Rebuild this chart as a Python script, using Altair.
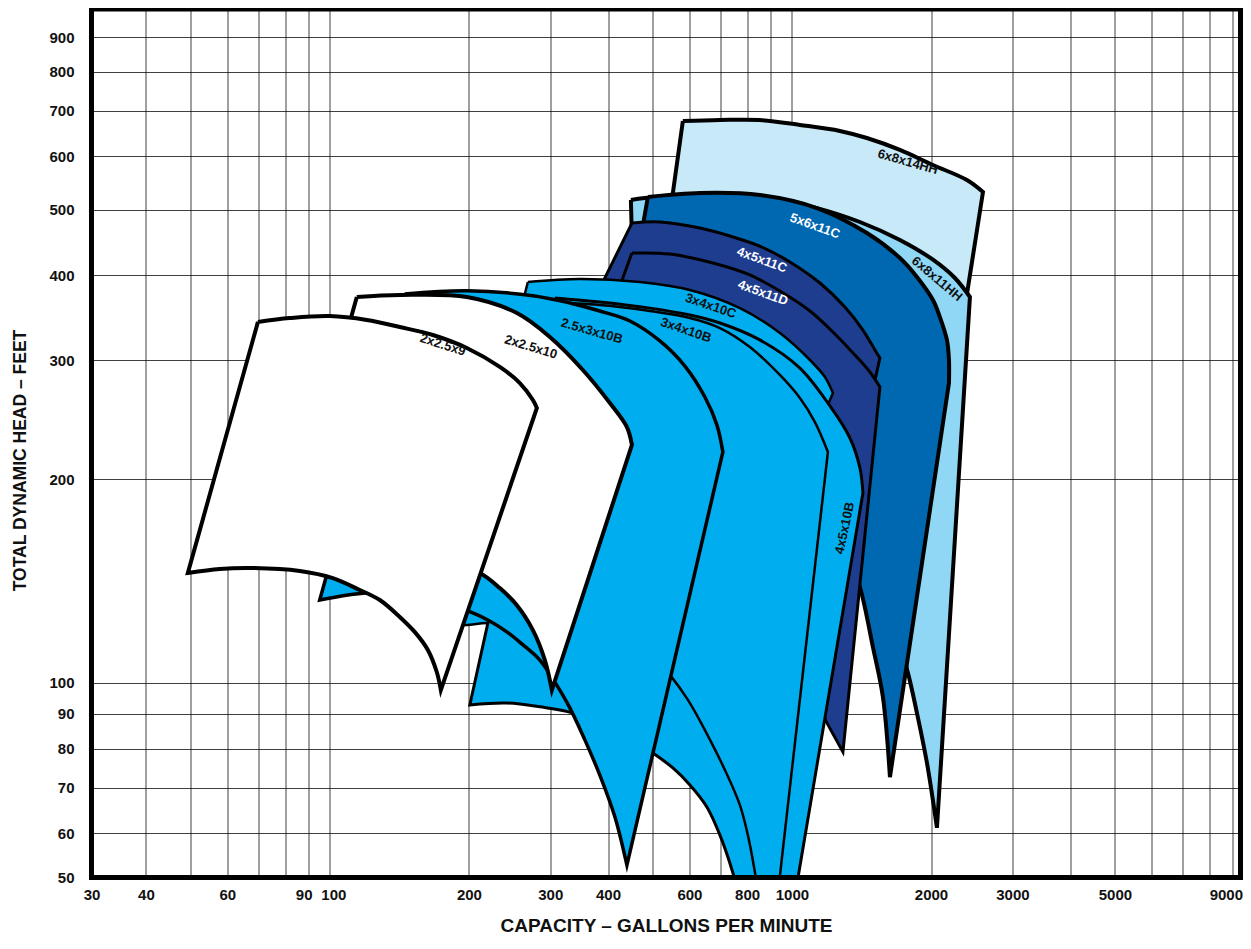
import altair as alt
import pandas as pd

# ---------------- data (capacity in GPM, total dynamic head in feet) ----------------
pump_names = ["6x8x14HH", "6x8x11HH", "5x6x11C", "4x5x11C", "4x5x11D", "3x4x10C",
              "4x5x10B", "3x4x10B", "2.5x3x10B", "2x2.5x10", "2x2.5x9"]
pump_fills = ["#c7e9f8", "#8fd7f5", "#0067b1", "#1f3d8f", "#1f3d8f", "#00aeef",
              "#00aeef", "#00aeef", "#00aeef", "#ffffff", "#ffffff"]
pump_strokes = [4, 4, 4, 3, 3, 2.5, 3, 2.5, 3.5, 4, 4]

gpm_6x8x14HH = [580.8, 698.7, 852.3, 1041, 1270, 1453, 1713, 2019, 2392, 2591, 1989, 492.7, 552.6]
head_6x8x14HH = [676.2, 678.6, 678.6, 667.3, 653.9, 638.3, 613.0, 582.4, 553.3, 531.2, 168.3, 261.8, 529.4]
corner_6x8x14HH = [0, 9, 10, 11, 12]

gpm_6x8x11HH = [448.3, 480.7, 632.4, 852.3, 1132.7, 1403.4, 1713, 2019.5, 2253, 2428, 2060, 1960, 1864.6,
                1782.6, 1671, 1512.5, 1270, 941.9, 632.4, 468.8]
head_6x8x11HH = [517.0, 520.6, 525.8, 522.3, 503.0, 479.7, 451.2, 422.0, 396.5, 371.7, 61.1, 76.2, 90.3,
                 103.5, 119.7, 132.6, 144.4, 154.5, 159.9, 162.6]
corner_6x8x11HH = [0, 9, 10, 19]

gpm_5x6x11C = [487.9, 632.4, 852.3, 1132.7, 1453.3, 1713, 1864.6, 2019.5, 2090, 2165, 2187, 2187, 1629.8,
               1573.9, 1497.4, 1403.4, 1302, 1150, 852.3, 572, 384.0]
head_5x6x11C = [522.3, 529.4, 525.8, 503.0, 462.0, 424.4, 397.9, 367.9, 347.3, 321.2, 300.0, 277.4, 72.6,
                95.3, 113.0, 138.6, 159.9, 180.1, 199.5, 206.4, 206.4]
corner_5x6x11C = [0, 11, 12, 20]

gpm_4x5x11C = [450.6, 518.0, 632.4, 734.3, 861.0, 990.1, 1150, 1302.0, 1424.5, 1512.5, 1550.5, 1512.5,
               1270, 852.3, 468.8, 284.8]
head_4x5x11C = [478.0, 479.7, 470.0, 457.4, 440.6, 418.7, 389.8, 359.3, 332.2, 310.4, 302.0, 280.2,
                151.9, 174.1, 202.9, 253.1]
corner_4x5x11C = [0, 10, 11, 12, 15]

gpm_4x5x11D = [450.6, 544.5, 674.5, 811.0, 941.9, 1093.9, 1239, 1369, 1475, 1550.5, 1289.6, 1190.7,
               1093.9, 941.9, 698.7, 468.8, 257.8]
head_4x5x11D = [431.7, 430.2, 417.2, 400.6, 379.3, 354.4, 327.8, 305.1, 288.0, 273.6, 79.1, 87.3,
                97.6, 110.0, 128.2, 141.9, 151.9]
corner_4x5x11D = [0, 9, 10, 16]

gpm_3x4x10C = [268.3, 347.6, 468.8, 601.6, 771.8, 941.9, 1093.9, 1178.8, 1226.8, 1190.7, 896.4, 771.8,
               572.3, 384.0, 284.8, 219.8, 197.9, 173.0]
head_3x4x10C = [391.2, 395.3, 391.2, 380.7, 357.9, 328.8, 300.0, 283.1, 268.1, 255.7, 67.2, 82.4,
                101.0, 115.7, 121.4, 122.6, 121.8, 121.0]
corner_3x4x10C = [0, 8, 9, 10, 17]

gpm_4x5x10B = [306.9, 384.0, 492.7, 601.6, 698.7, 852.3, 1040.6, 1208.6, 1335.1, 1403.4, 1424.5, 995.0,
               791.0, 745.3, 698.7, 654.6, 601.6, 552.6, 500.3, 424.4, 335.7, 284.8, 241.6, 200.9, 219.8]
head_4x5x10B = [370.5, 365.4, 357.9, 349.6, 340.2, 321.2, 291.9, 256.6, 230.1, 207.8, 190.8, 44.7,
                44.7, 52.4, 59.6, 65.6, 70.7, 74.9, 78.8, 84.7, 90.3, 92.2, 93.4, 92.8, 122.6]
corner_4x5x10B = [0, 10, 11, 12, 23, 24]

gpm_3x4x10B = [292.0, 384.0, 492.7, 601.6, 698.7, 811.0, 941.9, 1040.6, 1121.5, 1196.5, 918.9, 861.0,
               835.7, 803.0, 771.8, 716.1, 648.2, 595.6, 544.5, 468.8, 384.0, 299.4, 245.3, 200.9, 173.0]
head_3x4x10B = [365.4, 361.7, 354.4, 346.1, 334.4, 313.5, 285.1, 263.6, 242.9, 219.4, 44.7, 44.7,
                51.5, 59.6, 66.0, 74.4, 85.2, 94.4, 102.8, 115.0, 126.9, 136.3, 140.5, 141.9, 141.9]
corner_3x4x10B = [0, 9, 10, 11, 24]

gpm_2_5x3x10B = [145.3, 197.9, 275.1, 330.7, 384.0, 446.1, 518.0, 586.7, 648.2, 688.3, 708.9, 439.5,
                 414.0, 384.0, 356.4, 330.7, 306.9, 284.8, 260.4, 241.6, 219.8, 199.0, 173.0, 141.7, 120.2, 95.1]
head_2_5x3x10B = [375.5, 379.7, 373.3, 364.2, 354.4, 342.6, 320.1, 293.9, 264.5, 240.4, 219.4, 53.8,
                  63.4, 73.1, 82.4, 91.9, 100.3, 108.1, 114.2, 119.0, 123.9, 127.8, 131.7, 134.9, 135.8, 132.6]
corner_2_5x3x10B = [0, 10, 11, 25]

gpm_2x2_5x10 = [114.4, 141.7, 197.9, 254.0, 299.4, 352.8, 403.7, 439.5, 450.6, 302.4, 292.0, 275.1, 254.0,
                233.3, 211.2, 173.0, 128.3, 95.1, 79.9]
head_2x2_5x10 = [371.7, 374.2, 371.7, 352.0, 324.4, 290.0, 259.2, 238.8, 224.7, 97.6, 108.1, 119.7, 130.3,
                 138.1, 145.4, 151.9, 156.1, 156.1, 154.5]
corner_2x2_5x10 = [0, 8, 9, 18]

gpm_2x2_5x9 = [69.9, 81.9, 100, 120.2, 141.7, 167.1, 197.9, 233.3, 257.8, 275.1, 280.6, 173.9, 170.4, 163.0,
               152.8, 141.7, 128.3, 116.1, 101.5, 86.1, 67.1, 57.8, 49.3]
head_2x2_5x9 = [341.5, 346.0, 348.4, 343.8, 335.6, 326.6, 312.5, 293.0, 277.4, 261.8, 254.8, 97.6, 103.8, 111.9,
                118.9, 125.2, 132.6, 137.2, 142.9, 146.4, 147.9, 147.4, 145.4]
corner_2x2_5x9 = [0, 10, 11, 22]

pump_gpm = [gpm_6x8x14HH, gpm_6x8x11HH, gpm_5x6x11C, gpm_4x5x11C, gpm_4x5x11D, gpm_3x4x10C,
            gpm_4x5x10B, gpm_3x4x10B, gpm_2_5x3x10B, gpm_2x2_5x10, gpm_2x2_5x9]
pump_head = [head_6x8x14HH, head_6x8x11HH, head_5x6x11C, head_4x5x11C, head_4x5x11D, head_3x4x10C,
             head_4x5x10B, head_3x4x10B, head_2_5x3x10B, head_2x2_5x10, head_2x2_5x9]
pump_corners = [corner_6x8x14HH, corner_6x8x11HH, corner_5x6x11C, corner_4x5x11C, corner_4x5x11D,
                corner_3x4x10C, corner_4x5x10B, corner_3x4x10B, corner_2_5x3x10B, corner_2x2_5x10,
                corner_2x2_5x9]

label_text = ["6x8x14HH", "6x8x11HH", "5x6x11C", "4x5x11C", "4x5x11D", "3x4x10C", "3x4x10B",
              "2.5x3x10B", "2x2.5x10", "2x2.5x9", "4x5x10B"]
label_gpm = [1782, 2060, 1121.5, 861, 865.3, 667.5, 589.6, 369, 272.3, 175.6, 1302]
label_head = [588.3, 395.3, 473.2, 421.6, 376.9, 360.5, 332.0, 331, 313.5, 315.7, 169.4]
label_angle = [16, 40, 20, 20, 20, 19, 19, 16, 17, 18, 282]
label_color = ["#111111", "#111111", "#ffffff", "#ffffff", "#ffffff", "#111111", "#111111",
               "#111111", "#111111", "#111111", "#111111"]

x_grid = [30.5, 40, 50, 60, 70, 80, 90, 100, 200, 300, 400, 500, 600, 700, 800, 900,
          1000, 2000, 3000, 4000, 5000, 6000, 7000, 8000, 9000]
x_labeled = [40, 60, 90, 100, 200, 300, 400, 600, 800, 1000, 2000, 3000, 5000, 9000]
y_grid = [51.6, 60, 70, 80, 90, 100, 200, 300, 400, 500, 600, 700, 800, 900]

# ---------------- chart ----------------
W, H = 1149, 868.5
FONT = "Liberation Sans, Arial, Helvetica, sans-serif"

xs = alt.Scale(type="log", domain=[30.5, 9349])
ys = alt.Scale(type="log", domain=[51.6, 990])

x_label_offset = {
    "condition": [
        {"test": "datum.value == 90", "value": -5},
        {"test": "datum.value == 100", "value": 3.5},
        {"test": "datum.value == 9000", "value": -7},
    ],
    "value": 0,
}

x_axis = alt.Axis(
    values=x_grid,
    labelExpr="datum.value < 31 ? '30' : (indexof(" + str(x_labeled) + ", datum.value) >= 0 ? '' + datum.value : '')",
    grid=True, gridColor="#000000", gridWidth=1, gridOpacity=0.75,
    ticks=False, domain=False,
    labelFont=FONT, labelFontSize=15, labelFontWeight="bold", labelColor="#111111",
    labelPadding=17, labelBaseline="middle", labelOverlap=False, labelFlush=False, labelAlign="center",
    labelOffset=x_label_offset,
    title="CAPACITY \u2013 GALLONS PER MINUTE", titleFont=FONT, titleFontSize=19,
    titleFontWeight="bold", titleColor="#111111", titleBaseline="alphabetic",
    titleAlign="center", titleX=W / 2, titleY=54,
)
y_axis = alt.Axis(
    values=y_grid,
    labelExpr="datum.value < 52 ? '50' : '' + datum.value",
    grid=True, gridColor="#000000", gridWidth=1, gridOpacity=0.75,
    ticks=False, domain=False,
    labelFont=FONT, labelFontSize=15, labelFontWeight="bold", labelColor="#111111",
    labelPadding=17.5, labelOverlap=False, labelFlush=False, labelBaseline="middle", labelAlign="right",
    title="TOTAL DYNAMIC HEAD \u2013 FEET", titleFont=FONT, titleFontSize=17.5,
    titleFontWeight="bold", titleColor="#111111", titleBaseline="alphabetic",
    titleAlign="center", titleAngle=270, titleX=-66.5, titleY=451,
)

X = alt.X("gpm:Q", scale=xs, axis=x_axis)
Y = alt.Y("head:Q", scale=ys, axis=y_axis)

layers = []
for k, name in enumerate(pump_names):
    rows = []
    pts = list(zip(pump_gpm[k], pump_head[k]))
    for j, (g, h) in enumerate(pts + [pts[0]]):
        jj = j % len(pts)
        rows.append((g, h))
        if jj in pump_corners[k]:
            rows.append((g, h))  # repeated vertex keeps the corner sharp
    df = pd.DataFrame(rows, columns=["gpm", "head"])
    df["i"] = range(len(df))
    df["pump"] = name
    layers.append(
        alt.Chart(df).mark_line(
            filled=True, fill=pump_fills[k], stroke="#000000",
            strokeWidth=pump_strokes[k], strokeJoin="miter", strokeMiterLimit=6, clip=True,
            interpolate="catmull-rom",
        ).encode(x=X, y=Y, order=alt.Order("i:Q"))
    )

labels_df = pd.DataFrame({"text": label_text, "gpm": label_gpm, "head": label_head,
                          "angle": label_angle, "color": label_color})
labels = alt.Chart(labels_df).mark_text(
    font=FONT, fontSize=13, fontWeight="bold", align="center", baseline="middle"
).encode(
    x=X, y=Y,
    text="text:N",
    angle=alt.Angle("angle:Q", scale=None),
    color=alt.Color("color:N", scale=None),
)

frame = alt.Chart(pd.DataFrame({"k": [0]})).mark_rect(
    filled=False, color="#000000", strokeWidth=5
).encode(x=alt.value(0), x2=alt.value(W), y=alt.value(0), y2=alt.value(H))

chart = alt.layer(*layers, labels, frame).properties(
    width=W, height=H,
    padding={"left": 83.5, "top": 1, "right": 2.5, "bottom": 58.5},
    autosize=alt.AutoSizeParams(type="none"),
).configure_view(stroke=None)

chart.save("out.html", embed_options={"renderer": "svg", "actions": False})
